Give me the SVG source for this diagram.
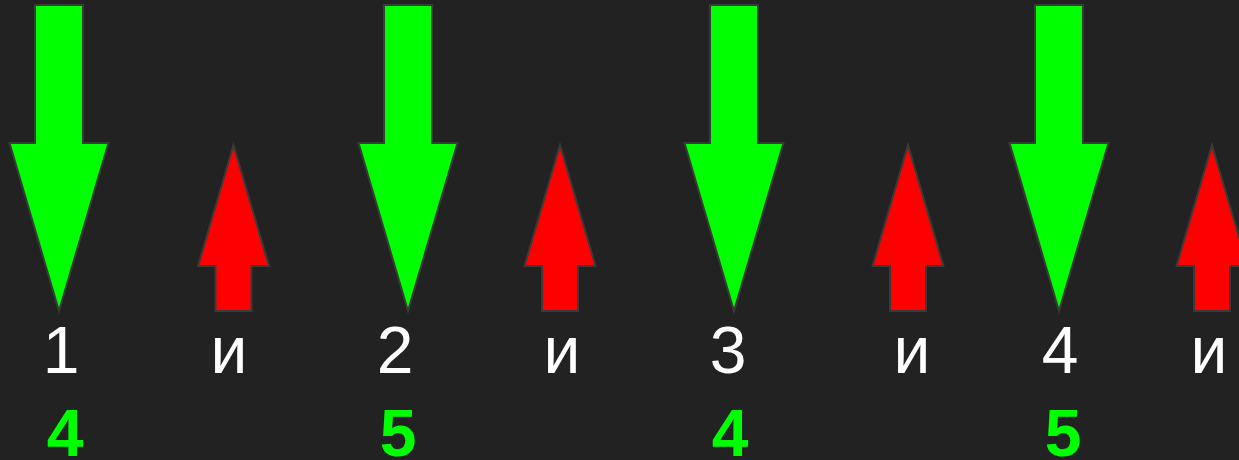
<svg xmlns="http://www.w3.org/2000/svg" width="1239" height="460" viewBox="0 0 1239 460">
<defs>
<style>
.g{fill:#00ff00;stroke:#3a3a3a;stroke-width:2;stroke-linejoin:miter}
.r{fill:#ff0000;stroke:#3a3a3a;stroke-width:2;stroke-linejoin:miter}
.w{fill:#ffffff;font-family:"Liberation Sans",Arial,sans-serif;font-size:66px;text-anchor:middle}
.b{fill:#00ff00;font-family:"Liberation Sans",Arial,sans-serif;font-size:66px;font-weight:bold;text-anchor:middle}
</style>
<path id="down" d="M-24,5 H24 V143 H49.5 L0,311 L-49.5,143 H-24 Z"/>
<path id="up" d="M0,145 L35.5,266 H18 V311 H-18 V266 H-35.5 Z"/>
</defs>
<rect width="1239" height="460" fill="#222222"/>
<g id="arrow-down-1"><use href="#down" class="g" x="59"/></g>
<g id="arrow-up-1"><use href="#up" class="r" x="233.5"/></g>
<g id="arrow-down-2"><use href="#down" class="g" x="408"/></g>
<g id="arrow-up-2"><use href="#up" class="r" x="560"/></g>
<g id="arrow-down-3"><use href="#down" class="g" x="734"/></g>
<g id="arrow-up-3"><use href="#up" class="r" x="908"/></g>
<g id="arrow-down-4"><use href="#down" class="g" x="1059"/></g>
<g id="arrow-up-4"><use href="#up" class="r" x="1212"/></g>
<g id="labels">
<text class="w" x="61" y="373">1</text>
<text class="w" x="229" y="373">и</text>
<text class="w" x="395" y="373">2</text>
<text class="w" x="562" y="373">и</text>
<text class="w" x="728" y="373">3</text>
<text class="w" x="912" y="373">и</text>
<text class="w" x="1060" y="373">4</text>
<text class="w" x="1209" y="373">и</text>
<text class="b" x="65" y="456">4</text>
<text class="b" x="398" y="456">5</text>
<text class="b" x="730" y="456">4</text>
<text class="b" x="1063" y="456">5</text>
</g>
</svg>
